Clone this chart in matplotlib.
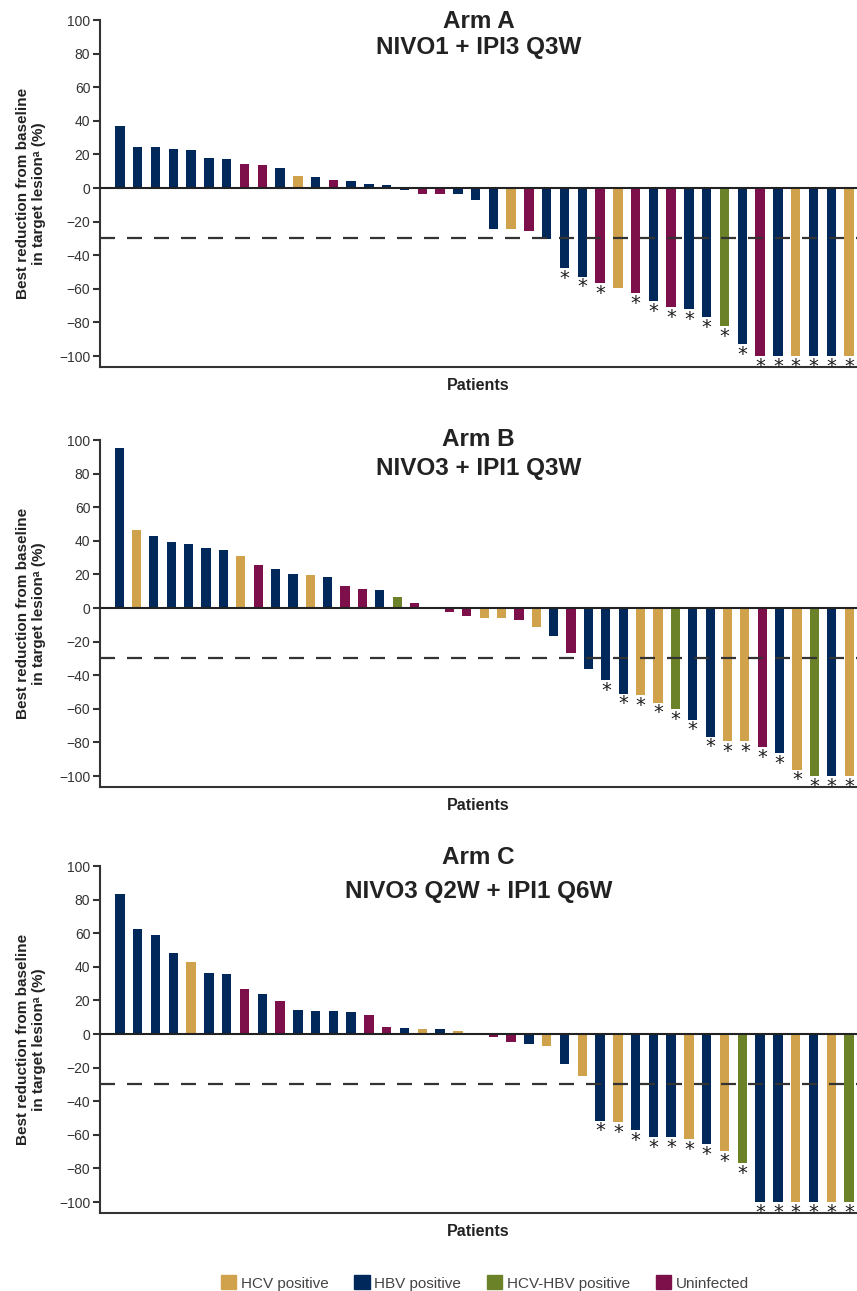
import matplotlib
matplotlib.use('Agg')
import matplotlib.pyplot as plt
from matplotlib.patches import Patch

plt.rcParams['font.family'] = ['Liberation Sans', 'DejaVu Sans']

kolory = {'HCV': '#D0A24C', 'HBV': '#00285A', 'HCV-HBV': '#6B8228', 'U': '#7D0F4B'}
etykiety = {'HCV': 'HCV positive', 'HBV': 'HBV positive',
            'HCV-HBV': 'HCV-HBV positive', 'U': 'Uninfected'}

# Arm A
wart_a = [36.7, 24.4, 24.4, 23.4, 22.8, 17.6, 17.2, 14.5, 13.9, 12.1, 6.9, 6.3,
          4.5, 4.0, 2.2, 1.6, -1.4, -3.4, -3.4, -3.4, -7.3, -24.3, -24.6, -25.8,
          -30.2, -47.6, -52.8, -56.4, -59.2, -62.5, -67.5, -70.9, -72.0, -76.8,
          -82.0, -92.9, -100, -100, -100, -100, -100, -100]
typ_a = ['HBV', 'HBV', 'HBV', 'HBV', 'HBV', 'HBV', 'HBV', 'U', 'U', 'HBV', 'HCV',
         'HBV', 'U', 'HBV', 'HBV', 'HBV', 'HBV', 'U', 'U', 'HBV', 'HBV', 'HBV',
         'HCV', 'U', 'HBV', 'HBV', 'HBV', 'U', 'HCV', 'U', 'HBV', 'U', 'HBV',
         'HBV', 'HCV-HBV', 'HBV', 'U', 'HBV', 'HCV', 'HBV', 'HBV', 'HCV']
gw_a = [0] * 25 + [1, 1, 1, 0] + [1] * 13

# Arm B
wart_b = [95.2, 46.6, 42.9, 39.5, 38.1, 35.5, 34.5, 31.1, 25.4, 23.2, 20.2, 19.4,
          18.5, 13.3, 11.3, 10.9, 6.7, 3.2, 0, -2.6, -4.6, -6.0, -6.0, -7.3,
          -11.3, -16.6, -26.9, -36.5, -42.8, -50.9, -51.9, -56.3, -60.3, -66.5,
          -76.6, -79.4, -79.4, -82.9, -86.5, -96.2, -100, -100, -100]
typ_b = ['HBV', 'HCV', 'HBV', 'HBV', 'HBV', 'HBV', 'HBV', 'HCV', 'U', 'HBV', 'HBV',
         'HCV', 'HBV', 'U', 'U', 'HBV', 'HCV-HBV', 'U', 'U', 'U', 'U', 'HCV', 'HCV',
         'U', 'HCV', 'HBV', 'U', 'HBV', 'HBV', 'HBV', 'HCV', 'HCV', 'HCV-HBV',
         'HBV', 'HBV', 'HCV', 'HCV', 'U', 'HBV', 'HCV', 'HCV-HBV', 'HBV', 'HCV']
gw_b = [0] * 28 + [1] * 15

# Arm C
wart_c = [83.4, 62.3, 58.9, 48.1, 42.6, 36.1, 35.7, 26.6, 23.8, 19.7, 14.6, 14.0,
          13.6, 13.0, 11.4, 4.3, 3.7, 2.8, 2.8, 2.0, -0.8, -1.5, -4.7, -5.9, -7.3,
          -17.6, -24.7, -51.5, -52.5, -57.0, -61.2, -61.2, -62.5, -65.7, -69.8,
          -76.7, -100, -100, -100, -100, -100, -100]
typ_c = ['HBV', 'HBV', 'HBV', 'HBV', 'HCV', 'HBV', 'HBV', 'U', 'HBV', 'U', 'HBV',
         'HBV', 'HBV', 'HBV', 'U', 'U', 'HBV', 'HCV', 'HBV', 'HCV', 'U', 'U', 'U',
         'HBV', 'HCV', 'HBV', 'HCV', 'HBV', 'HCV', 'HBV', 'HBV', 'HBV', 'HCV',
         'HBV', 'HCV', 'HCV-HBV', 'HBV', 'HBV', 'HCV', 'HBV', 'HCV', 'HCV-HBV']
gw_c = [0] * 27 + [1] * 15

# title lines, values, groups, asterisks, top of axes (px), xlim, title baselines (px)
panele = [
    (('Arm A', 'NIVO1 + IPI3 Q3W'), wart_a, typ_a, gw_a, 20, (-1.125, 41.45), (28, 54)),
    (('Arm B', 'NIVO3 + IPI1 Q3W'), wart_b, typ_b, gw_b, 440, (-1.10, 42.45), (446, 475)),
    (('Arm C', 'NIVO3 Q2W + IPI1 Q6W'), wart_c, typ_c, gw_c, 866, (-1.125, 41.45), (864, 898)),
]

W, H = 857, 1291
fig = plt.figure(figsize=(W / 100, H / 100), dpi=100)

for tytul, wart, typ, gw, gora, xlim, linie in panele:
    ax = fig.add_axes([100 / W, 1 - (gora + 347) / H, 757 / W, 347 / H])
    x = list(range(len(wart)))
    ax.bar(x, wart, width=0.53, color=[kolory[t] for t in typ], zorder=2)
    for i in x:
        if gw[i]:
            ax.annotate('*', xy=(i, wart[i]), xytext=(0, -0.5),
                        textcoords='offset points', ha='center', va='top',
                        fontsize=14, color='#1e1e1e', zorder=4,
                        family='DejaVu Sans')
    ax.axhline(0, color='#222222', lw=1.5, zorder=3)
    ax.axhline(-30, color='#333333', lw=1.6, linestyle=(0, (6.75, 5.4)), zorder=3)
    ax.set_xlim(*xlim)
    ax.set_ylim(-106.5, 100)
    ax.set_yticks(range(-100, 101, 20))
    ax.set_xticks([])
    for s in ['top', 'right']:
        ax.spines[s].set_visible(False)
    for s in ['left', 'bottom']:
        ax.spines[s].set_color('#333333')
        ax.spines[s].set_linewidth(1.5)
    ax.tick_params(axis='y', length=5, width=1.5, color='#333333',
                   labelsize=10, labelcolor='#333333', pad=2)
    ax.set_ylabel('Best reduction from baseline\nin target lesion\u1d43 (%)',
                  fontsize=11, fontweight='bold', color='#222222')
    ax.yaxis.set_label_coords(-0.071, 0.5)
    ax.set_xlabel('Patients', fontsize=11.5, fontweight='bold',
                  color='#222222', labelpad=8)
    for txt, yb in zip(tytul, linie):
        fig.text(478.5 / W, 1 - yb / H, txt, ha='center', va='baseline',
                 fontsize=17.5, fontweight='bold', color='#222222')

uchwyty = [Patch(color=kolory[k]) for k in ['HCV', 'HBV', 'HCV-HBV', 'U']]
fig.legend(uchwyty, [etykiety[k] for k in ['HCV', 'HBV', 'HCV-HBV', 'U']],
           loc='center', bbox_to_anchor=(485 / W, 1 - 1283 / H), ncol=4,
           frameon=False, handlelength=1.0, handleheight=1.0, handletextpad=0.3,
           columnspacing=1.7, fontsize=11, labelcolor='#444444')

plt.savefig('out.png', dpi=100)
